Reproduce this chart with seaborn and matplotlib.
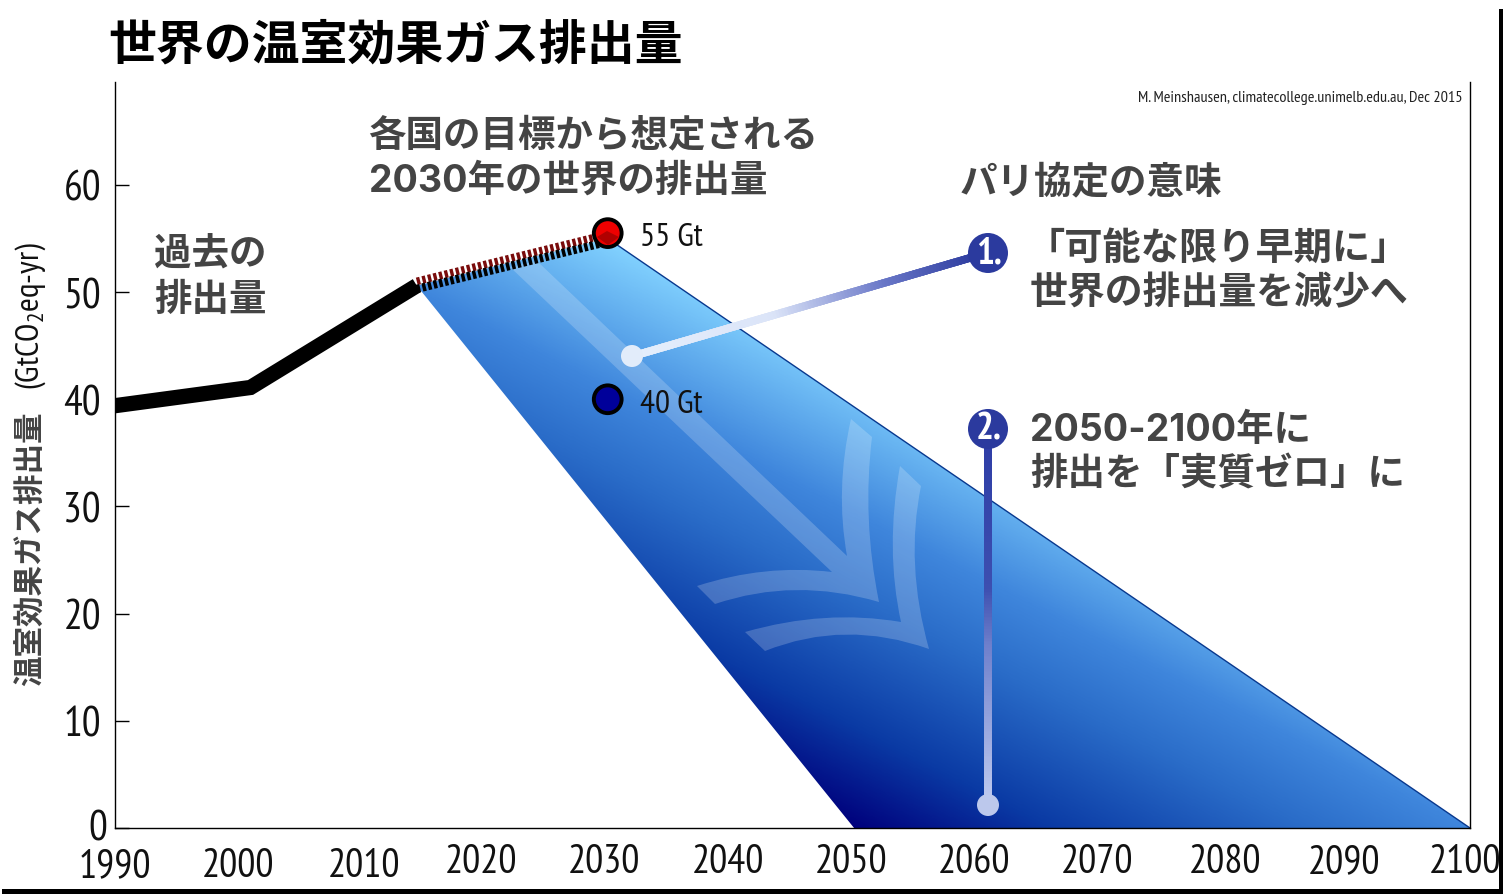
import numpy as np
import pandas as pd
import seaborn as sns
import matplotlib
matplotlib.use("Agg")
import matplotlib.pyplot as plt
from matplotlib.colors import LinearSegmentedColormap
from matplotlib.collections import LineCollection
from matplotlib.patches import PathPatch, Polygon, Circle, Rectangle
from matplotlib.path import Path
from matplotlib.transforms import Affine2D, ScaledTranslation

# --- data
hist_years = [1990, 2001, 2014.5]
hist_values = [39.4, 41.1, 50.6]
pledge_years = [2014.5, 2030]
pledge_values = [50.6, 55.0]
band_years = [2014.5, 2030, 2100, 2050]
band_values = [50.6, 55.0, 0, 0]
point_years = [2030, 2030]
point_values = [55.5, 40.0]
point_labels = ["55 Gt", "40 Gt"]
x_ticks = list(range(1990, 2101, 10))
y_ticks = list(range(0, 61, 10))

TITLE = "世界の温室効果ガス排出量"
GREY = "#444444"
CJK = ["Inter", "DejaVu Sans", "Noto Sans CJK JP"]
NARROW = ["PT Sans Narrow", "Asap Condensed", "Archivo Narrow", "Liberation Sans Narrow", "Roboto"]

sns.set_theme(style="white")
plt.rcParams["font.family"] = CJK
plt.rcParams["mathtext.default"] = "regular"

fig = plt.figure(figsize=(15.03, 8.95), dpi=100, facecolor="white")
W, H = 1503, 895
ax = fig.add_axes([115 / W, 1 - 829 / H, (1470 - 115) / W, (829 - 83) / H])
ax.set_facecolor("white")

# pixel-space transform for decorations
px = Affine2D().scale(1, -1).translate(0, H)

# gradient band
cmap = LinearSegmentedColormap.from_list(
    "band", [(0, "#00007c"), (0.22, "#0a3aa4"), (0.5, "#2a6cc8"), (0.68, "#3f86dc"), (1, "#82d2ff")])
gx, gy = np.meshgrid(np.linspace(2014, 2100, 500), np.linspace(0, 56, 500))
pxx = 115 + 12.32 * (gx - 1990)
pxy = 829 - 10.72 * gy
t = (539 * pxx - 1055 * pxy + 416445) / 490957
im = ax.imshow(np.clip(t, 0, 1), extent=(2014, 2100, 0, 56), origin="lower", aspect="auto",
               cmap=cmap, vmin=0, vmax=1, zorder=1)
clip = Polygon(np.column_stack([band_years, band_values]), closed=True, transform=ax.transData)
im.set_clip_path(clip)
ax.set_xlim(1990, 2100)
ax.set_ylim(0, 69.6)
sns.lineplot(x=band_years[1:3], y=band_values[1:3], color="#08388e", lw=1.0, ax=ax, zorder=2)

# translucent arrow
C3, L2 = Path.CURVE3, Path.LINETO
arrow1 = [(851, 420), (872, 438), (862, 520), (879, 603), (795, 578), (715, 605), (697, 587),
          (765, 565), (832, 573), (510, 268), (537, 262), (847, 557), (835, 490), (851, 420), (851, 420)]
codes1 = [Path.MOVETO, L2, C3, C3, C3, C3, L2, C3, C3, L2, L2, L2, C3, C3, Path.CLOSEPOLY]
arrow2 = [(900, 467), (921, 487), (905, 565), (929, 650), (845, 620), (765, 652), (745, 633),
          (825, 610), (901, 623), (885, 550), (900, 467), (900, 467)]
codes2 = [Path.MOVETO, L2, C3, C3, C3, C3, L2, C3, C3, C3, C3, Path.CLOSEPOLY]
for verts, codes in [(arrow1, codes1), (arrow2, codes2)]:
    ax.add_patch(PathPatch(Path(verts, codes), fc="white", ec="none", alpha=0.2, transform=px, zorder=3, clip_on=False))

# history + pledge lines
sns.lineplot(x=hist_years, y=hist_values, color="black", lw=11, ax=ax, zorder=4, sort=False,
             solid_capstyle="butt", solid_joinstyle="miter", clip_on=True)
pledge_x = np.array(pledge_years)
pledge_y = np.array(pledge_values)
ax.plot(pledge_x, pledge_y + 0.40, color="#7a0c0c", lw=5.5, ls=(0, (0.44, 0.31)), dash_capstyle="butt", zorder=4)
ax.plot(pledge_x, pledge_y - 0.30, color="black", lw=6.0, ls=(0, (0.42, 0.27)), dash_capstyle="butt", zorder=4)

# points
pts = pd.DataFrame({"x": point_years, "y": point_values, "c": ["#ee0000", "#00009a"]})
sns.scatterplot(data=pts, x="x", y="y", c=pts["c"], s=400, edgecolor="black", linewidth=2.8, ax=ax, zorder=5, legend=False)
ax.add_patch(Polygon([(597, 238), (607, 232), (619, 238), (608, 246)], fc="#b00000", ec="none", transform=px, zorder=6))
for lab, yy in zip(point_labels, [238, 405]):
    ax.text(640, yy, lab, transform=px, family=NARROW, fontsize=24, color="#111111", ha="left", va="center", zorder=6)


def gradient_line(p0, p1, colors, lw):
    cm = LinearSegmentedColormap.from_list("c", colors)
    s = np.linspace(0, 1, 120)
    xs = p0[0] + (p1[0] - p0[0]) * s
    ys = p0[1] + (p1[1] - p0[1]) * s
    segs = [[(xs[i], ys[i]), (xs[i + 1], ys[i + 1])] for i in range(119)]
    ax.add_collection(LineCollection(segs, colors=cm(s[:-1]), linewidths=lw, transform=px, zorder=7, capstyle="projecting"))


gradient_line((640, 355), (980, 256), [(0, "#e4eefc"), (0.4, "#dbe4f8"), (0.72, "#6a78c8"), (1, "#2b3a9e")], 5.5)
gradient_line((988, 440), (988, 800), [(0, "#2e3da6"), (0.42, "#3d4fb0"), (0.58, "#6f80cc"), (1, "#bcc8ee")], 5.5)
for c, r, col in [((632, 357), 11, "#e2ecfa"), ((988, 806), 11, "#bcc8ec"), ((988, 254), 20, "#2b3a9e"), ((988, 430), 20, "#2b3a9e")]:
    ax.add_patch(Circle(c, r, fc=col, ec="none", transform=px, zorder=8))
for s, yy in [("1.", 254), ("2.", 430)]:
    ax.text(989, yy, s, transform=px, family=NARROW, fontsize=27, fontweight="bold", color="white", ha="center", va="center", zorder=9)

# axes styling
for sp in ax.spines.values():
    sp.set_visible(True)
    sp.set_color("black")
    sp.set_linewidth(1.0)
ax.spines["top"].set_visible(False)
ax.set_xticks(x_ticks)
ax.set_xticklabels([str(v) for v in x_ticks])
ax.set_yticks(y_ticks)
ax.set_yticklabels([str(v) for v in y_ticks])
ax.tick_params(axis="x", length=0, pad=11)
ax.tick_params(axis="y", direction="in", length=10, width=1.0, color="black", left=True, pad=10)
ax.set_xlabel("")
for lab in ax.get_xticklabels():
    lab.set_family(NARROW)
    lab.set_fontsize(29)
    lab.set_color("#111111")
for lab in ax.get_yticklabels():
    lab.set_family(NARROW)
    lab.set_fontsize(30)
    lab.set_color("#111111")
x_shift = [0, 0, 3, -4, -4, -3, -3, -3, -3, 1, -3, -5]
y_shift = [-4, -4, -4, 0, 0, 0, 0, 0, 0, 0, 0, 0]
for lab, dx, dy in zip(ax.get_xticklabels(), x_shift, y_shift):
    lab.set_transform(lab.get_transform() + ScaledTranslation(dx / 100, dy / 100, fig.dpi_scale_trans))
ylab0 = ax.get_yticklabels()[0]
ylab0.set_transform(ylab0.get_transform() + ScaledTranslation(6 / 100, 3 / 100, fig.dpi_scale_trans))

ax.set_ylabel("温室効果ガス排出量", fontsize=22, fontweight="bold", color=GREY, va="center")
ax.yaxis.set_label_coords(31 / W, 1 - 549 / H, transform=fig.transFigure)
fig.text(31 / W, 1 - 316 / H, "(GtCO$_2$eq-yr)", family=NARROW, fontsize=24, color="#111111", rotation=90, ha="center", va="center")

# texts
fig.text(108 / W, 1 - 47 / H, TITLE, fontsize=34.5, fontweight="bold", color="black", ha="left", va="center")
notes = [
    (368, 136, "各国の目標から想定される", 27),
    (369, 182, "2030年の世界の排出量", 27),
    (154, 256, "過去の", 27),
    (154, 301, "排出量", 27),
    (960, 183, "パリ協定の意味", 27),
    (1027, 250, "「可能な限り早期に」", 27.5),
    (1030, 294, "世界の排出量を減少へ", 27.3),
    (1030, 431, "2050-2100年に", 27),
    (1030, 475, "排出を「実質ゼロ」に", 27),
]
for x, y, s, fs in notes:
    fig.text(x / W, 1 - y / H, s, fontsize=fs, fontweight="bold", color=GREY, ha="left", va="center")
fig.text(1463 / W, 1 - 98 / H, "M. Meinshausen, climatecollege.unimelb.edu.au, Dec 2015", family=NARROW,
         fontsize=11.7, color="#222222", ha="right", va="center")

# image border
fig.add_artist(Rectangle((2 / W, 0), 1, 5 / H, transform=fig.transFigure, fc="black", ec="none"))
fig.add_artist(Rectangle((1499 / W, 0), 4 / W, 1 - 10 / H, transform=fig.transFigure, fc="black", ec="none"))

fig.savefig("out.png", dpi=100, facecolor="white")
